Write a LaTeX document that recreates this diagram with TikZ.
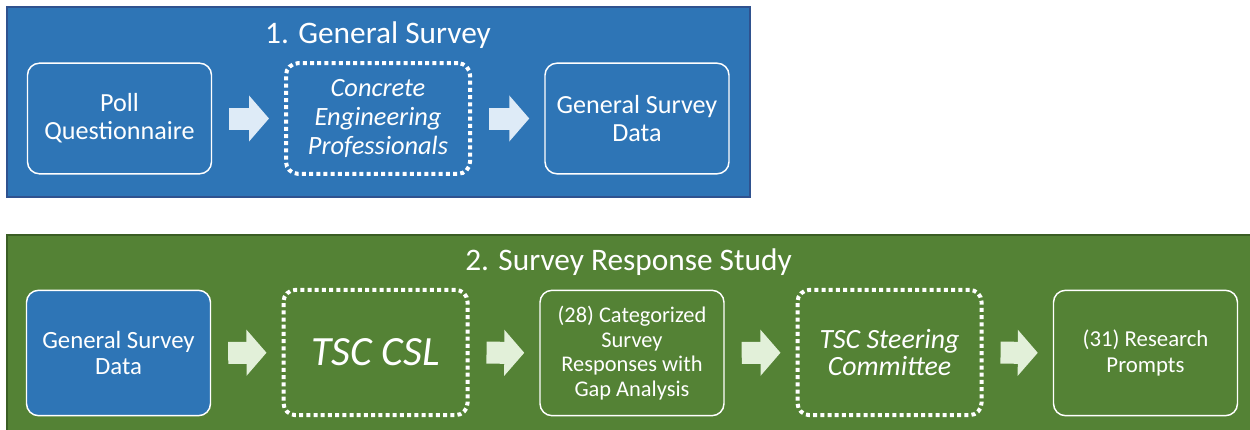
\documentclass[tikz,border=0pt]{standalone}
\usepackage{fontspec}
\setmainfont{Carlito}
\usetikzlibrary{arrows.meta}
\usetikzlibrary{positioning}

\definecolor{surveyblue}{HTML}{2E75B6}
\definecolor{surveyblueline}{HTML}{2F528F}
\definecolor{studygreen}{HTML}{548235}
\definecolor{studygreenline}{HTML}{3A5E24}
\definecolor{paleblue}{HTML}{DEEBF7}
\definecolor{palegreen}{HTML}{E2F0D9}

\begin{document}
\begin{tikzpicture}[x=0.75pt,y=-0.75pt,
    panel/.style={line width=1.1pt},
    heading/.style={text=white,anchor=base,font=\fontsize{23.5}{28}\selectfont},
    item/.style={draw=white,line width=1.1pt,rounded corners=9pt,text=white,
      align=center,minimum width=138pt,minimum height=83pt,inner sep=2pt},
    tall/.style={minimum height=94pt},
    group/.style={item,line width=3pt,dash pattern=on 3pt off 2.4pt,
      font=\itshape\fontsize{19.8}{21.75}\selectfont},
    flow/.style={line width=16.5pt,shorten <=12.75pt,shorten >=11.25pt,
      -{Triangle[width=33.75pt,length=15pt]}},
  ]
  \useasboundingbox (0,0) rectangle (1250,429);

  %% 1. General survey
  \draw[panel,draw=surveyblueline,fill=surveyblue] (7,7) rectangle (750,197);
  \node[heading] (title1) at (378,43) {1. General Survey};

  \node[item,font=\fontsize{19.6}{21}\selectfont] (poll) at (119.5,118.5)
    {Poll\\Questionnaire};
  \node[group] (pros) at (378,118.5)
    {Concrete\\Engineering\\Professionals};
  \node[item,font=\fontsize{19.6}{21}\selectfont] (gsd) at (637,118.5)
    {General Survey\\Data};

  \draw[flow,paleblue] (poll) -- (pros);
  \draw[flow,paleblue] (pros) -- (gsd);

  %% 2. Survey response study
  \draw[panel,draw=studygreenline,fill=studygreen] (7,235) rectangle (1256,436);
  \node[heading] (title2) at (628.5,270) {2. Survey Response Study};

  \node[item,tall,fill=surveyblue,font=\fontsize{18.6}{19.5}\selectfont]
    (gsd2) at (118.5,353) {General Survey\\Data};
  \node[group,tall,font=\itshape\fontsize{31.2}{36}\selectfont]
    (csl) at (375.5,352.5) {TSC CSL};
  \node[item,tall,font=\fontsize{16.8}{18.4}\selectfont]
    (cat) at (632,353) {(28) Categorized\\Survey\\Responses with\\Gap Analysis};
  \node[group,tall,font=\itshape\fontsize{20.9}{20}\selectfont]
    (steer) at (889.5,352.5) {TSC Steering\\Committee};
  \node[item,tall,font=\fontsize{17.1}{19.5}\selectfont]
    (prompts) at (1145.5,353) {(31) Research\\Prompts};

  \draw[flow,palegreen] (gsd2) -- (csl);
  \draw[flow,palegreen] (csl) -- (cat);
  \draw[flow,palegreen] (cat) -- (steer);
  \draw[flow,palegreen] (steer) -- (prompts);
\end{tikzpicture}
\end{document}
